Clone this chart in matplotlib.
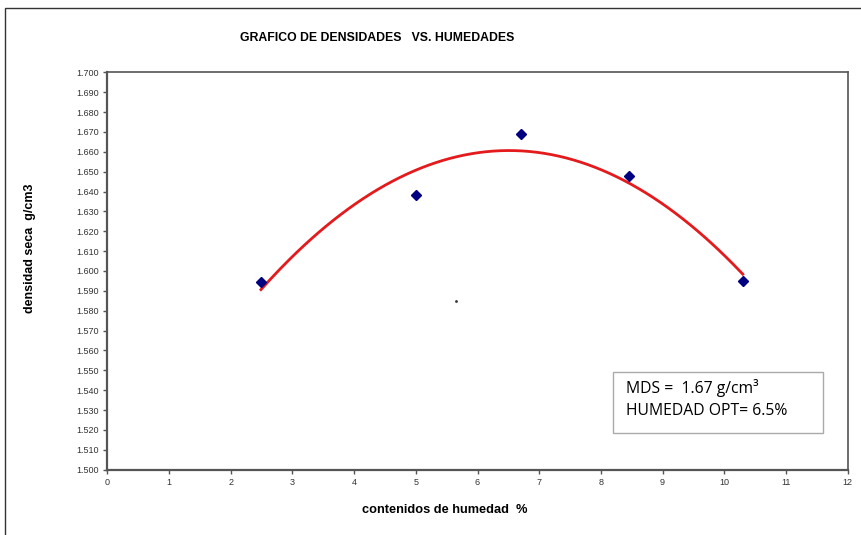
import numpy as np
import matplotlib
matplotlib.use("Agg")
import matplotlib.pyplot as plt
from matplotlib.patches import Rectangle

# data
humedad = [2.49, 5.01, 6.70, 8.46, 10.30]
densidad = [1.5945, 1.638, 1.669, 1.648, 1.595]
x_ticks = list(range(0, 13))
y_ticks = [1.500 + 0.010 * i for i in range(21)]
title = "GRAFICO DE DENSIDADES   VS. HUMEDADES"
xlabel = "contenidos de humedad  %"
ylabel = "densidad seca  g/cm3"
box_lines = ["MDS =  1.67 g/cm\u00b3", "HUMEDAD OPT= 6.5%"]
stray_x, stray_y = [5.65], [1.585]

W, H = 861, 535
fig = plt.figure(figsize=(W / 100, H / 100), dpi=100)
narrow = ["Liberation Sans Narrow", "Liberation Sans", "DejaVu Sans"]

# outer chart border (partially cropped)
fig.add_artist(Rectangle((5 / W, -0.1), 1.2, 1 - 8 / H + 0.1, transform=fig.transFigure,
                         fill=False, edgecolor="#333333", linewidth=1.0))

ax = fig.add_axes([107.3 / W, 1 - 469.7 / H, (847.7 - 107.3) / W, (469.7 - 72.3) / H])
ax.set_xlim(0, 12)
ax.set_ylim(1.5, 1.7)

coef = np.polyfit(humedad, densidad, 2)
xs = np.linspace(min(humedad), max(humedad), 200)
ax.plot(xs, np.polyval(coef, xs), color="#e41a1c", linewidth=2.0, zorder=2)
ax.plot(humedad, densidad, linestyle="none", marker="D", markersize=5,
        color="#000080", zorder=3)
ax.plot(stray_x, stray_y, linestyle="none", marker="s", markersize=0.9, color="#333333")

ax.set_xticks(x_ticks)
ax.set_xticklabels([str(v) for v in x_ticks])
ax.set_yticks(y_ticks)
ax.set_yticklabels([f"{v:.3f}" for v in y_ticks])
ax.tick_params(axis="both", labelsize=6.5, labelcolor="#333333", length=3,
               width=1, color="#555555", direction="out", pad=3)
for lbl in ax.get_xticklabels() + ax.get_yticklabels():
    lbl.set_family(narrow)
for s in ["left", "bottom"]:
    ax.spines[s].set_linewidth(1.6)
    ax.spines[s].set_color("#555555")
for s in ["top", "right"]:
    ax.spines[s].set_linewidth(1.2)
    ax.spines[s].set_color("#555555")

fig.text(377 / W, 1 - 38 / H, title, ha="center", va="center", fontsize=8.8,
         fontweight="bold", family=narrow)
fig.text(445 / W, 1 - 510 / H, xlabel, ha="center", va="center", fontsize=9.2,
         fontweight="bold", family=narrow)
fig.text(30 / W, 1 - 248 / H, ylabel, ha="center", va="center", rotation=90,
         fontsize=9.0, fontweight="bold", family=narrow)

fig.add_artist(Rectangle((613 / W, 1 - 433 / H), 210 / W, 61 / H, transform=fig.transFigure,
                         fill=True, facecolor="white", edgecolor="#aaaaaa", linewidth=1.0))
fig.text(626 / W, 1 - 388 / H, box_lines[0], ha="left", va="center", fontsize=11.3,
         family=["Open Sans", "DejaVu Sans"])
fig.text(626 / W, 1 - 411 / H, box_lines[1], ha="left", va="center", fontsize=11.3,
         family=["Open Sans", "DejaVu Sans"])

fig.savefig("out.png", dpi=100)
